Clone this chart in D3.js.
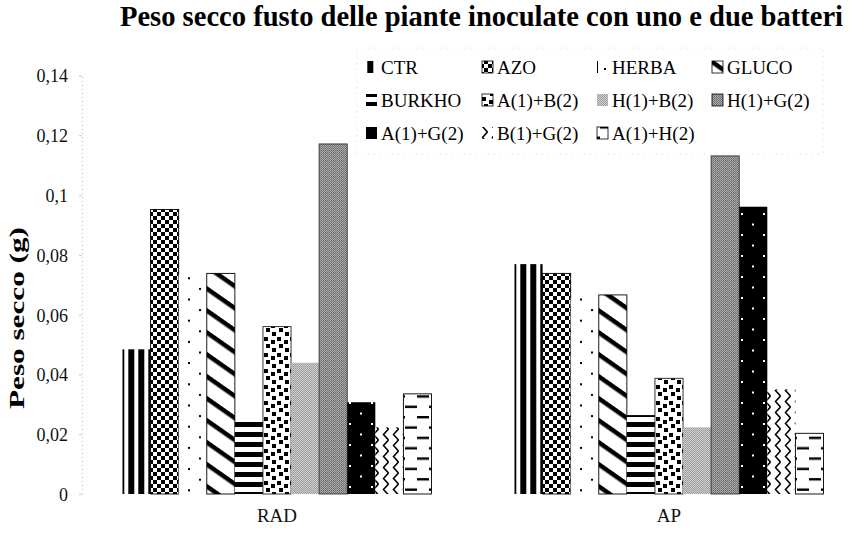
<!DOCTYPE html>
<html>
<head>
<meta charset="utf-8">
<script src="https://cdn.jsdelivr.net/npm/d3@7"></script>
<style>
  body { margin: 0; background: #fff; }
  svg { display: block; }
  svg text { font-family: "Liberation Serif", "DejaVu Serif", serif; }
</style>
</head>
<body>
<svg id="chart" width="849" height="533"></svg>
<script>
// Dry weight of the shoots (g) for each inoculation treatment
const groups = ["RAD", "AP"];
const series = ["CTR", "AZO", "HERBA", "GLUCO", "BURKHO", "A(1)+B(2)", "H(1)+B(2)",
                "H(1)+G(2)", "A(1)+G(2)", "B(1)+G(2)", "A(1)+H(2)"];
const radValues = [0.0484, 0.0952, 0.0735, 0.0738, 0.0242, 0.0560, 0.0439, 0.1171, 0.0307, 0.0223, 0.0335];
const apValues  = [0.0769, 0.0738, 0.0656, 0.0666, 0.0264, 0.0387, 0.0223, 0.1131, 0.0961, 0.0350, 0.0203];
const yTicks = [0, 0.02, 0.04, 0.06, 0.08, 0.1, 0.12, 0.14];
const title = "Peso secco fusto delle piante inoculate con uno e due batteri";
const yTitle = "Peso secco (g)";

const valuesByGroup = { RAD: radValues, AP: apValues };

const svg = d3.select("#chart");
const defs = svg.append("defs");

// ---- fill patterns -------------------------------------------------------
function pattern(id, w, h, attrs = {}) {
  const p = defs.append("pattern").attr("id", id)
    .attr("patternUnits", "userSpaceOnUse").attr("width", w).attr("height", h);
  Object.entries(attrs).forEach(([k, v]) => p.attr(k, v));
  return p;
}
function rect(p, x, y, w, h, fill) {
  p.append("rect").attr("x", x).attr("y", y).attr("width", w).attr("height", h).attr("fill", fill);
}

// vertical stripes
let p = pattern("p0", 10, 10, { x: 7.3 });
rect(p, 0, 0, 10, 10, "#fff"); rect(p, 0, 0, 6, 10, "#000");
// checkerboard
p = pattern("p1", 8, 8);
rect(p, 0, 0, 8, 8, "#fff"); rect(p, 0, 0, 4, 4, "#000"); rect(p, 4, 4, 4, 4, "#000");
// sparse dots
p = pattern("p2", 22, 21.2, { x: 8, y: 1.7 });
rect(p, 0, 0, 22, 21.2, "#fff"); rect(p, 11, 0, 2, 2, "#000"); rect(p, 0, 10.6, 2, 2, "#000");
// wide downward diagonal
p = pattern("p3", 10, 18, { patternTransform: "rotate(35)" });
rect(p, 0, 0, 10, 18, "#fff"); rect(p, 0, 0, 10, 4.5, "#000");
// horizontal stripes
p = pattern("p4", 10, 10, { y: 2 });
rect(p, 0, 0, 10, 10, "#fff"); rect(p, 0, 0, 10, 5, "#000");
// large confetti
p = pattern("p5", 13, 16);
rect(p, 0, 0, 13, 16, "#fff");
[[1, 1], [8, 4], [3, 8], [9, 12]].forEach(([x, y]) => rect(p, x, y, 4, 4, "#000"));
// light grey texture
p = pattern("p6", 2, 2);
rect(p, 0, 0, 2, 2, "#cdcdcd"); rect(p, 0, 0, 1, 1, "#999"); rect(p, 1, 1, 1, 1, "#a6a6a6");
// medium grey texture
p = pattern("p7", 2, 2);
rect(p, 0, 0, 2, 2, "#a9a9a9"); rect(p, 0, 0, 1, 1, "#6a6a6a"); rect(p, 1, 1, 1, 1, "#7a7a7a");
// black with white dots
p = pattern("p8", 22, 21, { x: 4, y: 3 });
rect(p, 0, 0, 22, 21, "#000"); rect(p, 0, 0, 2, 2, "#fff"); rect(p, 11, 10.5, 2, 2, "#fff");
// zigzag
p = pattern("p9", 10, 11);
rect(p, 0, 0, 10, 11, "#fff");
p.append("path").attr("d", "M7.5,0 L2.5,5.5 L7.5,11").attr("fill", "none")
  .attr("stroke", "#000").attr("stroke-width", 1.6);
// brick dashes
p = pattern("p10", 24, 20.7, { x: 0, y: 2 });
rect(p, 0, 0, 24, 20.7, "#fff"); rect(p, 0, 0, 12, 2.4, "#000"); rect(p, 12, 10.35, 12, 2.4, "#000");

const fills = series.map((s, i) => `url(#p${i})`);
const strokes = ["none", "#000", "none", "#000", "none", "#222", "none", "#333", "none", "none", "#000"];

// ---- scales --------------------------------------------------------------
const y = d3.scaleLinear().domain([0, 0.14]).range([494, 75.5]);
const x0 = d3.scaleBand().domain(groups).range([81, 865]);
const x1 = d3.scaleBand().domain(series).range([41.5, x0.bandwidth() - 41.5]);

// ---- bars ----------------------------------------------------------------
const gGroups = svg.append("g").selectAll("g").data(groups).join("g")
  .attr("transform", d => `translate(${x0(d)},0)`);

gGroups.selectAll("rect")
  .data(g => series.map((s, i) => ({ s, i, v: valuesByGroup[g][i] })))
  .join("rect")
  .attr("x", d => x1(d.s))
  .attr("y", d => y(d.v))
  .attr("width", x1.bandwidth())
  .attr("height", d => y(0) - y(d.v))
  .attr("fill", d => fills[d.i])
  .attr("stroke", d => strokes[d.i])
  .attr("stroke-width", 0.9);

// ---- y axis ----------------------------------------------------------------
const fmt = d => d === 0 ? "0" : String(d).replace(".", ",");
const yAxis = svg.append("g").attr("transform", "translate(82,0)")
  .call(d3.axisLeft(y).tickValues(yTicks).tickFormat(fmt).tickSize(3).tickPadding(11));
yAxis.attr("font-family", null);
yAxis.select(".domain").attr("stroke", "#bbb").attr("stroke-dasharray", "1,3");
yAxis.selectAll(".tick line").attr("stroke", "#ccc");
yAxis.selectAll(".tick text").attr("font-size", 18).attr("fill", "#111").attr("dy", "0.36em");

// ---- x axis labels ------------------------------------------------------------
const xAxis = svg.append("g").attr("transform", "translate(0,494)")
  .call(d3.axisBottom(x0).tickSize(0).tickPadding(15));
xAxis.attr("font-family", null);
xAxis.select(".domain").remove();
xAxis.selectAll(".tick text").attr("font-size", 19).attr("fill", "#111");

// ---- titles --------------------------------------------------------------------
svg.append("text").attr("x", 120).attr("y", 26)
  .attr("font-weight", "bold").attr("font-size", 28.5)
  .attr("textLength", 723).attr("lengthAdjust", "spacingAndGlyphs")
  .attr("fill", "#000").text(title);

svg.append("text")
  .attr("transform", "translate(24,318) rotate(-90)")
  .attr("text-anchor", "middle")
  .attr("font-weight", "bold").attr("font-size", 22)
  .attr("textLength", 182).attr("lengthAdjust", "spacingAndGlyphs")
  .attr("fill", "#000").text(yTitle);

// ---- legend ------------------------------------------------------------------------
const legend = svg.append("g");
legend.append("rect").attr("x", 357).attr("y", 48).attr("width", 466).attr("height", 106)
  .attr("fill", "#fff").attr("stroke", "#d8d8d8").attr("stroke-dasharray", "1,5");
const colX = [366, 482, 597, 712];
const rowY = [67, 100, 133];
series.forEach((s, i) => {
  const cx = colX[i % 4], cy = rowY[Math.floor(i / 4)];
  legend.append("rect").attr("x", cx).attr("y", cy - 6).attr("width", 11).attr("height", 12)
    .attr("fill", fills[i]).attr("stroke", strokes[i] === "none" ? "none" : "#000")
    .attr("stroke-width", 0.8);
  if (i === 2) {
    // the dotted swatch gets a thin edge so it stays visible
    legend.append("line").attr("x1", cx + 0.5).attr("x2", cx + 0.5).attr("y1", cy - 6).attr("y2", cy + 6)
      .attr("stroke", "#000").attr("stroke-width", 1);
    legend.append("rect").attr("x", cx + 7).attr("y", cy + 1).attr("width", 2).attr("height", 2).attr("fill", "#000");
  }
  legend.append("text").attr("x", cx + 15).attr("y", cy).attr("dy", "0.35em")
    .attr("font-size", 19).attr("fill", "#000").text(s);
});
</script>
</body>
</html>
